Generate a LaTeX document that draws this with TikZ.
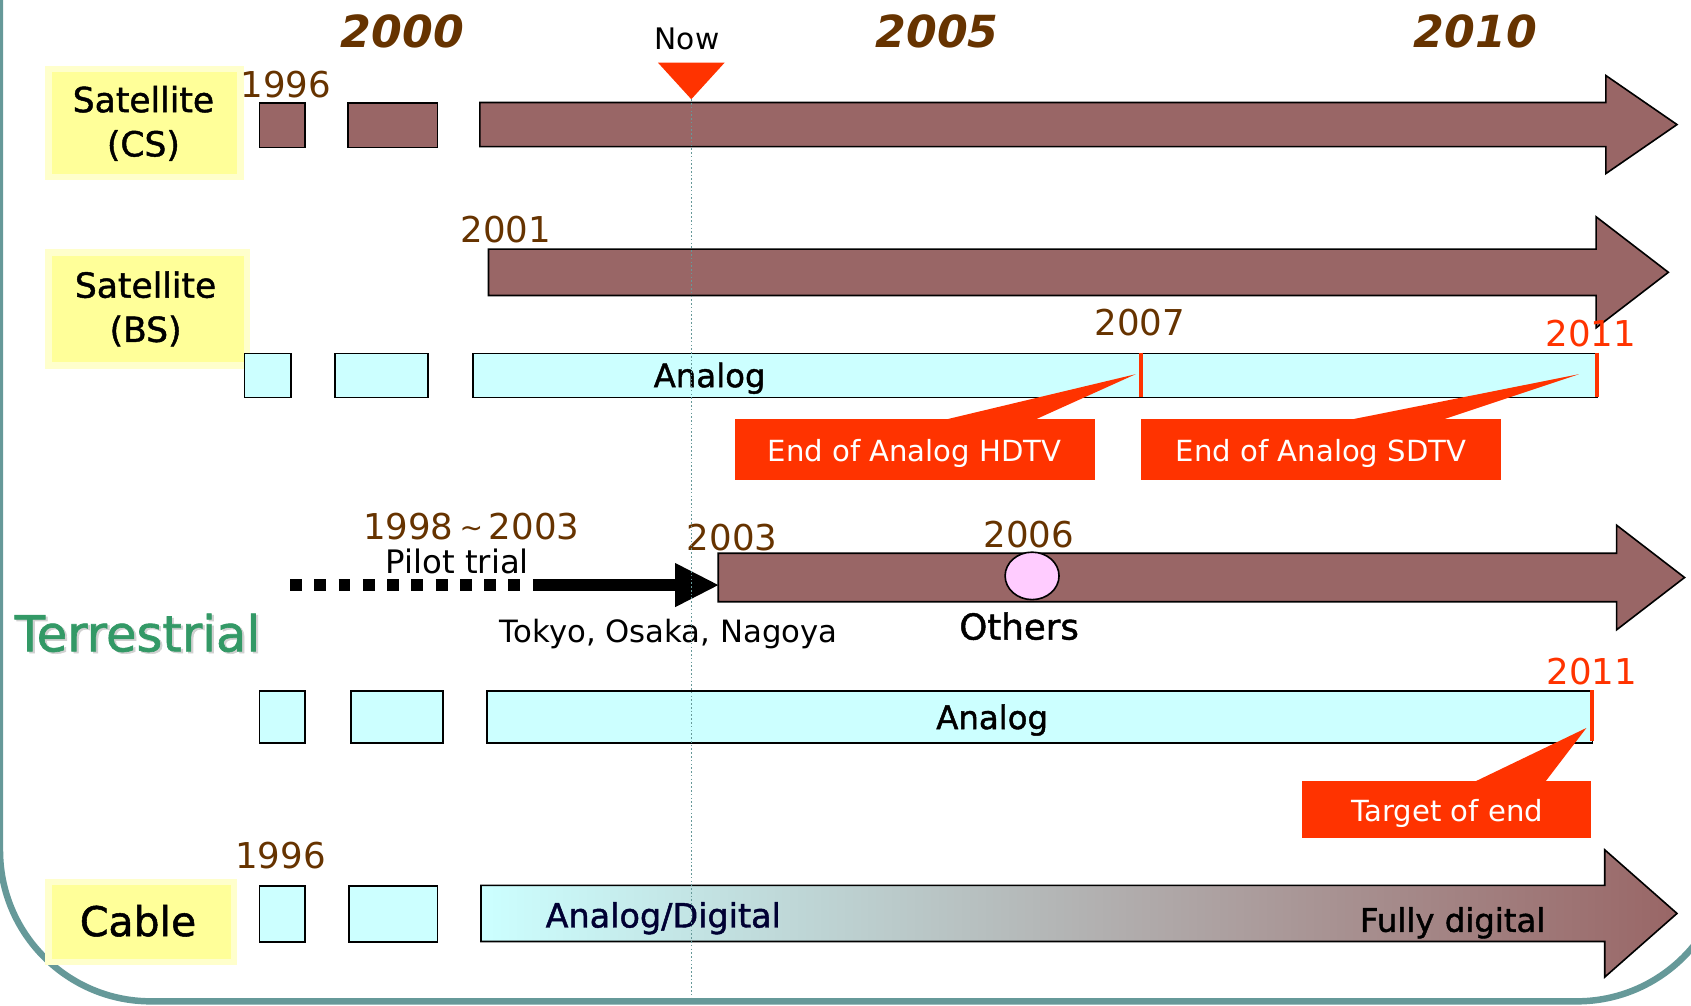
\documentclass[tikz,border=0pt]{standalone}
\usepackage{fontspec}
\setmainfont{DejaVu Sans}
\newfontfamily\medfont{DejaVu Sans}[FakeBold=1.3]
\usetikzlibrary{shapes.geometric}
\definecolor{barbrown}{HTML}{996666}
\definecolor{cyanf}{HTML}{CCFFFF}
\definecolor{labyellow}{HTML}{FFFF99}
\definecolor{labborder}{HTML}{FFFFCC}
\definecolor{alertred}{HTML}{FF3300}
\definecolor{yearbrown}{HTML}{663300}
\definecolor{terrgreen}{HTML}{339966}
\definecolor{dotpink}{HTML}{FFCCFF}
\definecolor{navytext}{HTML}{000033}
\definecolor{frameteal}{HTML}{669999}
\newcommand\fsz[1]{\fontsize{#1}{#1}\selectfont}
\tikzset{
  txt/.style={inner sep=0pt, anchor=base},
  yearhead/.style={txt, text=yearbrown, font=\fsz{41}\bfseries\itshape},
  yearlab/.style={txt, text=yearbrown, font=\fsz{33}},
  redyear/.style={txt, text=alertred, font=\fsz{33}},
  labelbox/.style={draw=labborder, line width=6pt, fill=labyellow, anchor=north west, inner sep=0pt},
  labtext/.style={txt, text=black, font=\medfont\fsz{32}},
  brownbox/.style={draw=black, line width=1.5pt, fill=barbrown, anchor=north west, inner sep=0pt},
  cyanbox/.style={draw=black, line width=1.5pt, fill=cyanf, anchor=north west, inner sep=0pt},
  bigarrow/.style={draw=black, line width=1.5pt, fill=barbrown},
  redtick/.style={draw=alertred, line width=4pt},
  callbox/.style={fill=alertred, anchor=north west, inner sep=0pt},
  calltext/.style={txt, text=white, font=\fsz{27}},
  bartext/.style={txt, text=black, font=\medfont\fsz{30}},
}
\begin{document}
\begin{tikzpicture}[x=1pt,y=-1pt]
\useasboundingbox (0,0) rectangle (1568,932);
% frame
\begin{scope}
\clip (0,0) rectangle (1568,932);
\draw[frameteal, line width=6pt, rounded corners=140pt] (0,-300) rectangle (1602,928.5);
\end{scope}

% year headers
\node[yearhead] (y2000) at (373,44) {2000};
\node[yearhead] (y2005) at (869,44) {2005};
\node[yearhead] (y2010) at (1368,44) {2010};
\node[txt, font=\fsz{27.5}] (now) at (637,46) {Now};
\fill[alertred] (610,58) -- (672,58) -- (641,92) -- cycle;

% ---- Satellite (CS)
\node[labelbox, minimum width=178, minimum height=100] (labcs) at (42,61) {};
\node[labtext] (labcs1) at (133,104) {Satellite};
\node[labtext] (labcs2) at (133,145) {(CS)};
\node[yearlab] (cs96) at (265,90) {1996};
\node[brownbox, minimum width=42, minimum height=41] (cs1) at (240,95) {};
\node[brownbox, minimum width=83, minimum height=41] (cs2) at (322,95) {};
\draw[bigarrow] (445,95) -- (1489,95) -- (1489,70) -- (1555,115.5) -- (1489,161) -- (1489,136) -- (445,136) -- cycle;

% ---- Satellite (BS)
\node[labelbox, minimum width=184, minimum height=105] (labbs) at (42,231) {};
\node[labtext] (labbs1) at (135,276) {Satellite};
\node[labtext] (labbs2) at (135,317) {(BS)};
\node[yearlab] (bs01) at (469,225) {2001};
\draw[bigarrow] (453,231) -- (1480,231) -- (1480,201) -- (1547,252.5) -- (1480,304) -- (1480,274) -- (453,274) -- cycle;
\node[cyanbox, minimum width=43, minimum height=41] (bs1) at (226,327) {};
\node[cyanbox, minimum width=86, minimum height=41] (bs2) at (310,327) {};
\node[cyanbox, minimum width=1042, minimum height=41] (bsa) at (438,327) {};
\node[bartext] (bsatext) at (658,359) {Analog};
\draw[redtick] (1058,327) -- (1058,368);
\draw[redtick] (1481,327) -- (1481,368);
\node[txt, text=yearbrown, font=\fsz{33}] (bs07) at (1057,311) {2007};
\node[redyear] (bs11) at (1475,321) {2011};
% callouts
\fill[alertred] (877,389) -- (1053,347) -- (960,389) -- cycle;
\node[callbox, minimum width=334, minimum height=57] (hd) at (681,388) {};
\node[calltext] (hdtext) at (848,428) {End of Analog HDTV};
\fill[alertred] (1253,389) -- (1464,347) -- (1338,389) -- cycle;
\node[callbox, minimum width=334, minimum height=57] (sd) at (1058,388) {};
\node[calltext] (sdtext) at (1225,428) {End of Analog SDTV};

% ---- Terrestrial
\node[txt, text=black!18, font=\medfont\fsz{46}] (terrsh) at (129.5,605.5) {Terrestrial};
\node[txt, text=terrgreen, font=\medfont\fsz{46}] (terr) at (127.5,604) {Terrestrial};
\node[yearlab] (pil) at (437,500) {1998\,\raisebox{2pt}{\fsz{26}\char`\~}\,2003};
\node[txt, font=\fsz{30}] (piltext) at (424,532) {Pilot trial};
\coordinate (pa) at (269,542.5);
\coordinate (pb) at (500,542.5);
\coordinate (pc) at (627,542.5);
\draw[line width=11pt, dash pattern=on 11pt off 11.5pt] (pa) -- (pb);
\draw[line width=11pt] (pb) -- (pc);
\fill (626,522) -- (666,542.5) -- (626,563) -- cycle;
\node[yearlab] (t03) at (679,510) {2003};
\draw[bigarrow] (666,513) -- (1499,513) -- (1499,487) -- (1562,535.5) -- (1499,584) -- (1499,558) -- (666,558) -- cycle;
\node[draw=black, line width=1.5pt, fill=dotpink, ellipse, minimum width=50, minimum height=44, inner sep=0pt] (e06) at (957,534) {};
\node[yearlab] (t06) at (954,508) {2006};
\node[txt, font=\medfont\fsz{33}] (others) at (945,593) {Others};
\node[txt, font=\fsz{28.5}] (tokyo) at (620,596) {Tokyo, Osaka, Nagoya};
\node[cyanbox, minimum width=42, minimum height=48] (t1) at (240,640) {};
\node[cyanbox, minimum width=85, minimum height=48] (t2) at (325,640) {};
\node[cyanbox, minimum width=1025, minimum height=48] (ta) at (451,640) {};
\node[bartext] (tatext) at (920,676) {Analog};
\draw[redtick] (1476,640) -- (1476,687);
\node[redyear] (t11) at (1476,635) {2011};
\fill[alertred] (1365,726) -- (1471,675) -- (1432,726) -- cycle;
\node[callbox, minimum width=268, minimum height=53] (tg) at (1207,724) {};
\node[calltext] (tgtext) at (1342,762) {Target of end};

% ---- Cable
\node[labelbox, minimum width=172, minimum height=74] (labc) at (42,815) {};
\node[txt, font=\medfont\fsz{38}] (labctext) at (128,868) {Cable};
\node[yearlab] (c96) at (260,805) {1996};
\node[cyanbox, minimum width=42, minimum height=52] (c1) at (240,821) {};
\node[cyanbox, minimum width=82, minimum height=52] (c2) at (323,821) {};
\shadedraw[left color=cyanf, right color=barbrown, draw=black, line width=1.5pt] (446,821) -- (1488,821) -- (1488,788) -- (1555,847) -- (1488,906) -- (1488,873) -- (446,873) -- cycle;
\node[txt, text=navytext, font=\medfont\fsz{31}] (cad) at (615,860) {Analog/Digital};
\node[txt, font=\medfont\fsz{30}] (cfd) at (1347,864) {Fully digital};

% now line
\coordinate (nowtop) at (641,92);
\coordinate (nowbot) at (641,932);
\draw[frameteal, line width=1.2pt, dash pattern=on 1.5pt off 2pt] (nowtop) -- (nowbot);
\end{tikzpicture}
\end{document}
